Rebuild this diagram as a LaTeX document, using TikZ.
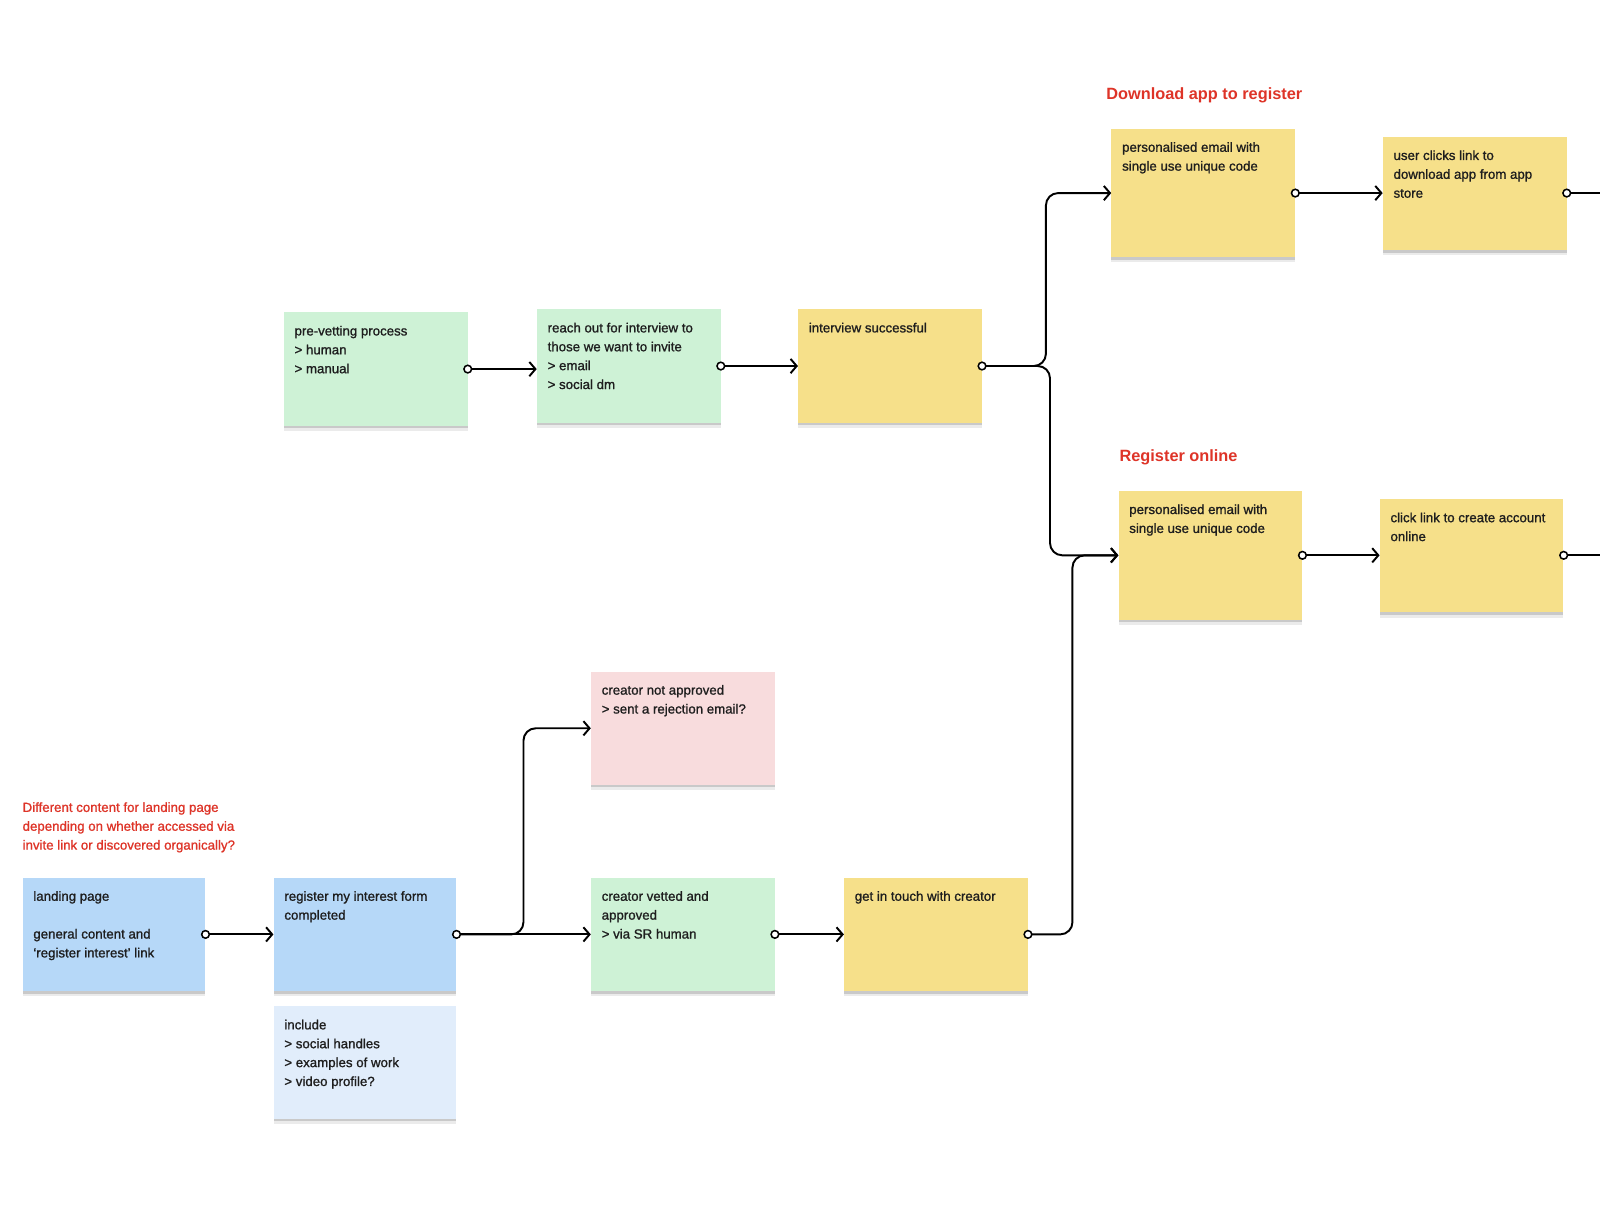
\documentclass[tikz,border=0pt]{standalone}
\usepackage{fontspec}
\setmainfont{Liberation Sans}
\newfontfamily\medfont{Liberation Sans}[FakeBold=1.1]
\usetikzlibrary{arrows.meta,shadows}
\definecolor{cgreen}{RGB}{206,242,214}
\definecolor{cyellow}{RGB}{246,224,138}
\definecolor{cblue}{RGB}{182,216,248}
\definecolor{clblue}{RGB}{225,237,251}
\definecolor{cpink}{RGB}{248,220,221}
\definecolor{cred}{RGB}{222,52,40}
\definecolor{ctext}{RGB}{30,30,30}
\tikzset{
  box/.style={rectangle, draw=none, anchor=north west, inner sep=0pt,
    drop shadow={shadow xshift=0pt, shadow yshift=-5pt, opacity=0.08, fill=black},
    drop shadow={shadow xshift=0pt, shadow yshift=-2.5pt, opacity=0.25, fill=black!60}},
  boxtext/.style={anchor=north west, inner sep=0pt, align=left, text=ctext,
    font=\medfont\fontsize{13}{18.5}\selectfont},
  redtitle/.style={anchor=base west, inner sep=0pt, text=cred,
    font=\fontsize{16}{19}\selectfont\bfseries},
  rednote/.style={anchor=north west, inner sep=0pt, align=left, text=cred,
    font=\medfont\fontsize{13}{18.5}\selectfont},
  conn/.style={draw=black, line width=1.9pt, rounded corners=12pt,
    -{Straight Barb[length=6pt, width=14pt, line width=1.9pt]}},
  plainconn/.style={draw=black, line width=1.9pt},
  dot/.style={circle, draw=black, fill=white, line width=1.5pt, inner sep=0pt, minimum size=7.5pt},
}
\newcommand{\sticky}[7]{%
  \node[box, fill=#6, minimum width=#4, minimum height=#5] (#1) at (#2,#3) {};
  \node[boxtext] (#1-t) at ([xshift=10.5pt, yshift=-9.6pt]#1.north west) {\strut #7};}
\begin{document}
\begin{tikzpicture}[x=1pt, y=-1pt]
\useasboundingbox (0,0) rectangle (1568,1192);
\fill[white] (0,0) rectangle (1568,1192);

% top row
\sticky{pv}{278}{306}{180pt}{111pt}{cgreen}{pre-vetting process\\> human\\> manual}
\sticky{ro}{526}{303}{180pt}{111pt}{cgreen}{reach out for interview to\\those we want to invite\\> email\\> social dm}
\sticky{it}{782}{303}{180pt}{111pt}{cyellow}{interview successful}

% download app branch
\node[redtitle] (dltitle) at (1084,97.5) {Download app to register};
\sticky{dl}{1089}{126}{180pt}{126pt}{cyellow}{personalised email with\\single use unique code}
\sticky{uc}{1355}{134}{180pt}{111pt}{cyellow}{user clicks link to\\download app from app\\store}

% register online branch
\node[redtitle] (rotitle) at (1097,452.5) {Register online};
\sticky{rp}{1096}{481}{180pt}{126pt}{cyellow}{personalised email with\\single use unique code}
\sticky{cl}{1352}{489}{180pt}{111pt}{cyellow}{click link to create account\\online}

% bottom row
\node[rednote] (note) at (22,782.5) {\strut Different content for landing page\\depending on whether accessed via\\invite link or discovered organically?};
\sticky{lp}{22}{860}{179pt}{111pt}{cblue}{landing page\\[18.5pt]general content and\\‘register interest’ link}
\sticky{rg}{268}{860}{179pt}{111pt}{cblue}{register my interest form\\completed}
\sticky{inc}{268}{986}{179pt}{110pt}{clblue}{include\\> social handles\\> examples of work\\> video profile?}
\sticky{na}{579}{658}{180pt}{111pt}{cpink}{creator not approved\\> sent a rejection email?}
\sticky{cv}{579}{860}{180pt}{111pt}{cgreen}{creator vetted and\\approved\\> via SR human}
\sticky{gt}{827}{860}{180pt}{111pt}{cyellow}{get in touch with creator}

% junction coordinates
\coordinate (j1) at (1025,0);
\coordinate (j2) at (1029,0);
\coordinate (j3) at (1051,0);
\coordinate (j4) at (513,0);
\coordinate (edge) at (1568,0);

% connectors
\draw[conn] (pv.east) -- (ro.west |- pv.east);
\draw[conn] (ro.east) -- (it.west |- ro.east);
\draw[conn] (it.east) -- (it.east -| j1) -- (j1 |- dl.west) -- (dl.west);
\draw[conn] (it.east) -- (it.east -| j2) -- (j2 |- rp.west) -- (rp.west);
\draw[conn] (gt.east) -- (gt.east -| j3) -- (j3 |- rp.west) -- (rp.west);
\draw[conn] (dl.east) -- (uc.west |- dl.east);
\draw[plainconn] (uc.east |- dl.east) -- (edge |- dl.east);
\draw[conn] (rp.east) -- (cl.west |- rp.east);
\draw[plainconn] (cl.east |- rp.east) -- (edge |- rp.east);
\draw[conn] (lp.east) -- (rg.west |- lp.east);
\draw[conn] (rg.east) -- (cv.west |- rg.east);
\draw[conn] (rg.east) -- (rg.east -| j4) -- (j4 |- na.west) -- (na.west);
\draw[conn] (cv.east) -- (gt.west |- cv.east);

% start dots
\node[dot] (d1) at (pv.east) {};
\node[dot] (d2) at (ro.east) {};
\node[dot] (d3) at (it.east) {};
\node[dot] (d4) at (dl.east) {};
\node[dot] (d5) at (uc.east |- dl.east) {};
\node[dot] (d6) at (rp.east) {};
\node[dot] (d7) at (cl.east |- rp.east) {};
\node[dot] (d8) at (lp.east) {};
\node[dot] (d9) at (rg.east) {};
\node[dot] (d10) at (cv.east) {};
\node[dot] (d11) at (gt.east) {};
\end{tikzpicture}
\end{document}
